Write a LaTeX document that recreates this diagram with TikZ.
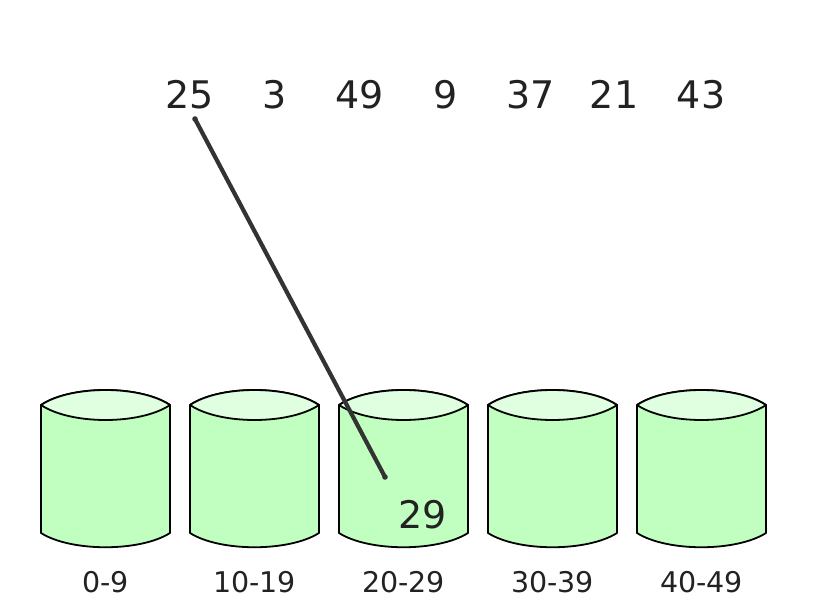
\documentclass[tikz,border=0pt]{standalone}
\usepackage{fontspec}
\setmainfont{DejaVu Sans}
\definecolor{bodygreen}{HTML}{C0FFC0}
\definecolor{topgreen}{HTML}{E0FFE0}
\definecolor{textgray}{HTML}{222222}
\definecolor{linegray}{HTML}{333333}
\tikzset{
  numtxt/.style={anchor=base, inner sep=0pt, text=textgray, font=\fontsize{38}{45}\selectfont},
  bintxt/.style={anchor=base, inner sep=0pt, text=textgray, font=\fontsize{28.5}{34}\selectfont},
  cylbody/.style={fill=bodygreen, draw=black, line width=1.8pt, line join=round},
  cyltop/.style={fill=topgreen, draw=black, line width=1.8pt, line join=round},
  pointer/.style={draw=linegray, line width=4.2pt, line cap=round}
}
\begin{document}
\begin{tikzpicture}[x=1pt, y=-1pt]
\useasboundingbox (0,0) rectangle (813,610);
% buckets
\foreach \l/\lab [count=\i] in {41/0-9, 190/10-19, 339/20-29, 488/30-39, 637/40-49} {
  \pgfmathsetmacro{\r}{\l+129}
  \pgfmathsetmacro{\c}{\l+64.5}
  \path[cylbody] (\l,405) -- (\l,533) .. controls (\l+30,552) and (\r-30,552) .. (\r,533)
     -- (\r,405) .. controls (\r-30,385) and (\l+30,385) .. (\l,405) -- cycle;
  \path[cyltop] (\l,405) .. controls (\l+30,385) and (\r-30,385) .. (\r,405)
     .. controls (\r-30,425) and (\l+30,425) .. (\l,405) -- cycle;
  \node[bintxt] (bin\i) at (\c,592) {\lab};
}
% numbers
\node[numtxt] (n25) at (190,108) {25};
\node[numtxt] (n3) at (275,108) {3};
\node[numtxt] (n49) at (360,108) {49};
\node[numtxt] (n9) at (446,108) {9};
\node[numtxt] (n37) at (531,108) {37};
\node[numtxt] (n21) at (614,108) {21};
\node[numtxt] (n43) at (701,108) {43};
\node[numtxt] (n29) at (423,528) {29};
% pointer
\coordinate (pstart) at (195,119);
\coordinate (pend) at (385,477);
\path[pointer] (pstart) -- (pend);
\fill[linegray] (pend) circle (2.8pt);
\fill[linegray] (pstart) circle (2.8pt);
\end{tikzpicture}
\end{document}
